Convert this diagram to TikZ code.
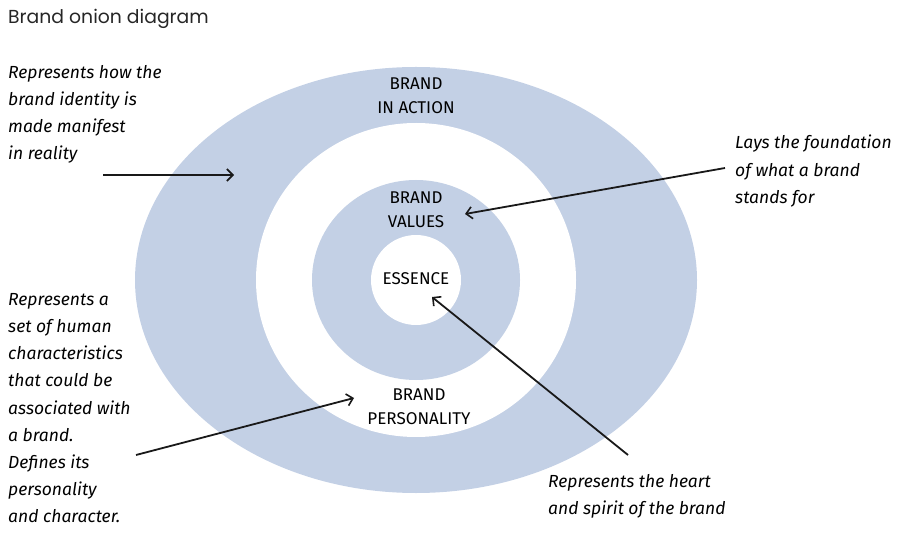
\documentclass[tikz,border=0pt]{standalone}
\usepackage{fontspec}
\setmainfont{Poppins}
\newfontfamily\hand{Fira Sans}
\usetikzlibrary{arrows.meta}
\definecolor{ring}{HTML}{C3D0E5}
\begin{document}
\begin{tikzpicture}[x=1pt,y=-1pt,
  note/.style={anchor=north west,inner sep=0pt,align=left,font=\hand\itshape\fontsize{17.5}{27.2}\selectfont},
  ringlabel/.style={inner sep=0pt,align=center,font=\hand\fontsize{17}{24}\selectfont},
  pointer/.style={draw=black!90,line width=1.8pt,-{Straight Barb[length=6pt,width=12pt,line width=1.6pt]}}]
\useasboundingbox (0,0) rectangle (920,534);
% rings
\fill[ring] (416,280) ellipse [x radius=281, y radius=213];
\fill[white] (416,280) ellipse [x radius=160, y radius=157];
\fill[ring] (416,280) ellipse [x radius=104, y radius=100];
\fill[white] (416,280) circle [radius=45];
% title
\node[anchor=base west,inner sep=0pt,text=black!85,font=\fontsize{18.8}{22}\selectfont] (title) at (8,24) {Brand onion diagram};
% ring labels
\node[ringlabel] (action) at (416,96) {BRAND\\IN ACTION};
\node[ringlabel] (values) at (416,210) {BRAND\\VALUES};
\node[ringlabel] (essence) at (416,279) {ESSENCE};
\node[ringlabel] (personality) at (419,407) {BRAND\\PERSONALITY};
% notes
\node[note] (n1) at (8,65) {Represents how the\\brand identity is\\made manifest\\in reality};
\node[note] (n2) at (735,135) {Lays the foundation\\of what a brand\\stands for};
\node[note] (n3) at (8,293) {Represents a\\set of human\\characteristics\\that could be\\associated with\\a brand.\\Defines its\\personality\\and character.};
\node[note] (n4) at (548,474) {Represents the heart\\and spirit of the brand};
% arrow ends
\coordinate (a1s) at (103,175); \coordinate (a1e) at (234,175);
\coordinate (a2s) at (725,168); \coordinate (a2e) at (465,214);
\coordinate (a3s) at (628,455); \coordinate (a3e) at (432,297);
\coordinate (a4s) at (136,455); \coordinate (a4e) at (354,398);
\draw[pointer] (a1s) -- (a1e);
\draw[pointer] (a2s) -- (a2e);
\draw[pointer] (a3s) -- (a3e);
\draw[pointer] (a4s) -- (a4e);
\end{tikzpicture}
\end{document}
